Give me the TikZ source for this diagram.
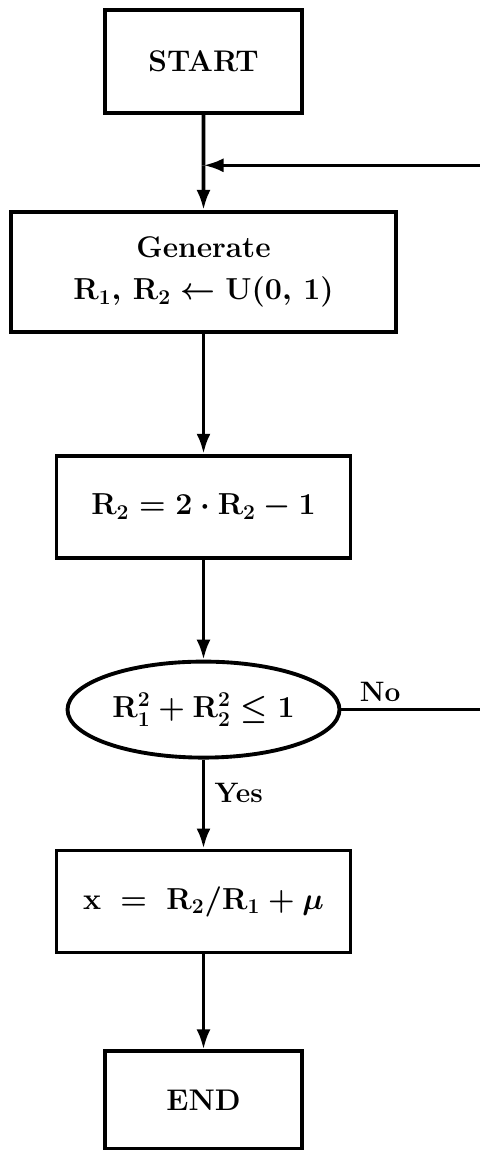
\documentclass[tikz,border=0pt]{standalone}
\usepackage{tikz}
\usetikzlibrary{arrows.meta, positioning, shapes, calc}
\usepackage{amsmath, amssymb}
\DeclareMathSizes{17}{17}{13}{10}

\begin{document}
\begin{tikzpicture}[
      node distance=2cm,
      every node/.style={font=\fontsize{17}{21}\selectfont\bfseries\boldmath},
      box/.style={draw, line width=2.2pt, minimum width=5.88cm, minimum height=2.04cm,
                  align=center, inner sep=2pt},
      smallbox/.style={box, minimum width=3.95cm, minimum height=1.95cm},
      test/.style={box, ellipse, minimum width=5.44cm, minimum height=1.92cm, inner sep=0pt},
      link/.style={-{Latex[length=4mm,width=2.8mm]}, line width=2pt},
      lbl/.style={draw=none, font=\fontsize{16}{19}\selectfont\bfseries}
    ]
    \useasboundingbox (0,0) rectangle (9.58,-23);

    \node[smallbox, minimum height=2.06cm] (start) at (4.07,-1.23) {START};
    \node[box, below=1.9cm of start, minimum width=7.7cm, minimum height=2.4cm] (gen)
      {Generate\\[3pt] $\mathbf{R}_1,\, \mathbf{R}_2 \leftarrow \mathbf{U}(0,\,1)$};
    \node[box, below=2.4cm of gen] (shift)
      {$\mathbf{R}_2 = 2\cdot\mathbf{R}_2 - 1$};
    \node[test, below=2cm of shift] (test)
      {$\mathbf{R}_1^2 + \mathbf{R}_2^2 \le 1$};
    \node[box, below=1.78cm of test] (calc)
      {$\mathbf{x} \;=\; \mathbf{R}_2/\mathbf{R}_1 + \mu$};
    \node[smallbox, below=1.9cm of calc, minimum height=1.96cm] (end) {END};

    \coordinate (join) at ($(start.south)!0.53!(gen.north)$);
    \coordinate (back) at (9.8,0);

    \draw[line width=2pt] (start) -- (join);
    \draw[link] (join) -- (gen);
    \draw[link] (gen) -- (shift);
    \draw[link] (shift) -- (test);
    \draw[link] (test) -- (calc)
      node[lbl, pos=0.37, right=2pt]{Yes};
    \draw[link] (calc) -- (end);

    % return path for rejected pairs
    \draw[link] (test.east) -- (test.east -| back)
      node[lbl, pos=0.26, above]{No}
      |- (join);
  \end{tikzpicture}
\end{document}
